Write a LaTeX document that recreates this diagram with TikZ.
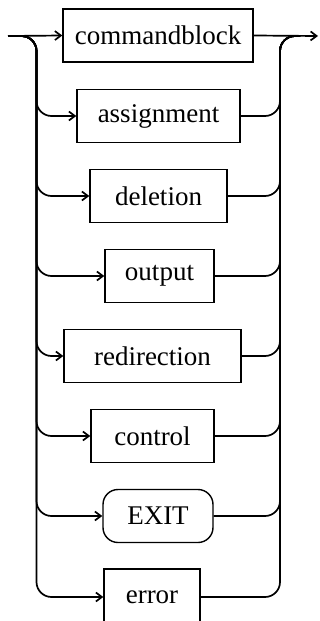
\documentclass[tikz,border=0pt]{standalone}
\usepackage{fontspec}
\setmainfont{Liberation Serif}
\usetikzlibrary{arrows.meta}
\begin{document}
\begin{tikzpicture}[x=1pt,y=-1pt,
  line width=1.7pt,
  term/.style={draw, line width=1.4pt, minimum height=53pt, inner sep=0pt,
    font=\fontsize{27}{30}\selectfont},
  kw/.style={term, rounded corners=15pt},
  arr/.style={-{Straight Barb[length=6pt,width=9pt]}},
  rail/.style={rounded corners=15pt}]
\useasboundingbox (0,0) rectangle (320,621);
\clip (0,0) rectangle (320,621);

% alternatives, top to bottom
\node[term, minimum width=190pt] (cb)  at (158,35.5) {commandblock};
\node[term, minimum width=163pt] (as)  at (158.5,116) {assignment};
\node[term, minimum width=137pt] (de)  at (158.5,196) {deletion};
\node[term, minimum width=109pt] (ou)  at (159.5,276) {output};
\node[term, minimum width=177pt] (re)  at (152.5,356) {redirection};
\node[term, minimum width=123pt] (co)  at (152.5,436) {control};
\node[kw,   minimum width=110pt] (ex)  at (158,516) {EXIT};
\node[term, minimum width=96pt, minimum height=56pt] (er) at (152,597) {error};

% rail ends
\coordinate (in)  at (8,36);
\coordinate (lt)  at (36.5,36);
\coordinate (rt)  at (280,36);
\coordinate (ro)  at (300,36);
\coordinate (out) at (318,36);

% main line
\draw[arr] (in) -- (cb.west);
\draw[arr] (cb.east) -- (out);

% branches
\foreach \b in {as,de,ou,re,co,ex,er}{
  \draw[rail,arr] (in) -- (lt) |- (\b.west);
  \draw[rail] (\b.east) -| (rt) -- (ro);
}
\end{tikzpicture}
\end{document}
